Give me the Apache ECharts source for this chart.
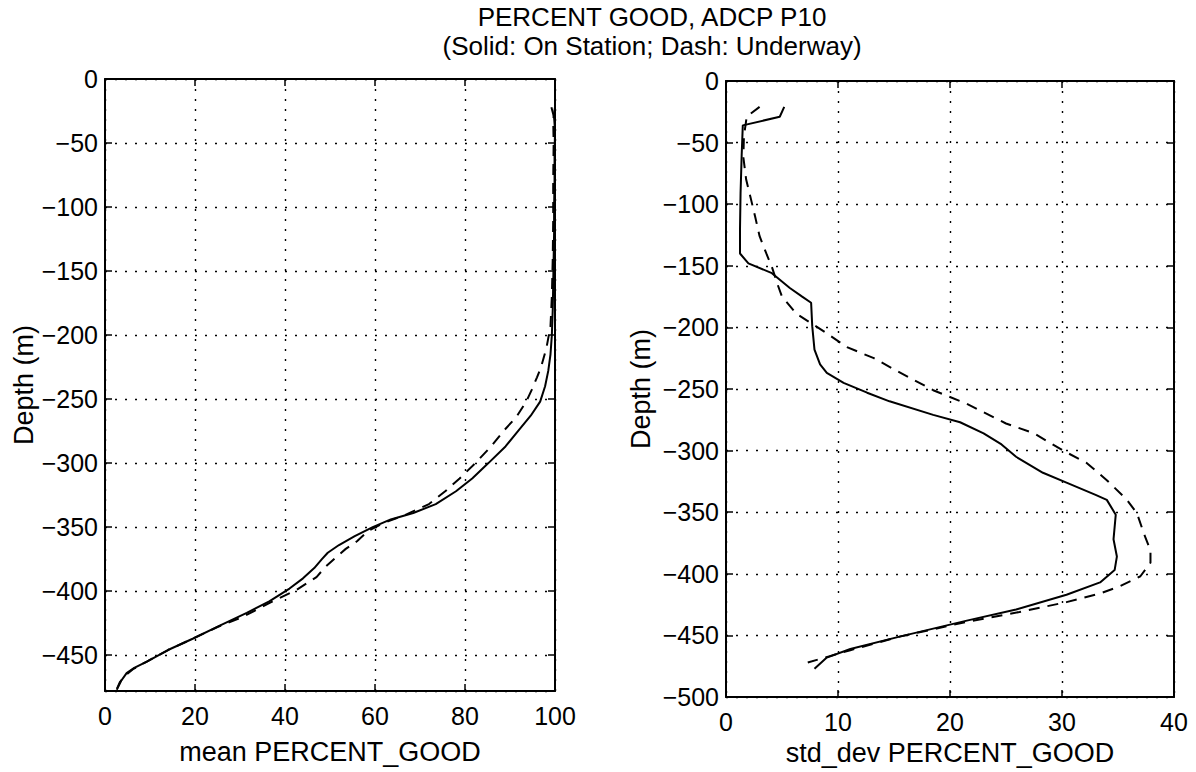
<!DOCTYPE html>
<html>
<head>
<meta charset="utf-8">
<script src="https://cdn.jsdelivr.net/npm/echarts@6/dist/echarts.min.js"></script>
<style>
html,body{margin:0;padding:0;background:#fff;}
#chart{width:1196px;height:772px;}
</style>
</head>
<body>
<div id="chart"></div>
<script>
// ---- Data (depth in metres below surface; plotted as negative depth) ----
const titleLine1 = 'PERCENT GOOD, ADCP P10';
const titleLine2 = '(Solid: On Station; Dash: Underway)';
const leftXName = 'mean PERCENT_GOOD';
const rightXName = 'std_dev PERCENT_GOOD';
const yName = 'Depth (m)';

// mean PERCENT_GOOD, on station (solid)
const meanStationPct   = [99.2, 99.8, 100, 99.9, 99.9, 99.8, 99.8, 99.7, 99.6, 99.5, 99.3, 99.0, 98.5, 97.8, 96.7, 94.6, 92.0, 89.0, 85.2, 81.6, 78.0, 73.5, 68.5, 63.5, 59.5, 55.5, 52.0, 49.5, 48.2, 46.5, 44.0, 41.0, 36.5, 31.5, 25.5, 19.6, 14.0, 9.3, 6.5, 4.8, 3.6, 2.6];
const meanStationDepth = [22, 30, 40, 60, 80, 100, 120, 140, 160, 180, 200, 215, 228, 240, 252, 263, 274, 287, 300, 312, 322, 332, 339, 344, 350, 357, 364, 370, 375, 382, 390, 398, 408, 417, 427, 437, 446, 455, 460, 464, 470, 477];

// mean PERCENT_GOOD, underway (dash)
const meanUnderwayPct   = [100, 99.6, 99.7, 99.6, 99.6, 99.5, 99.3, 99.0, 98.1, 96.9, 96.0, 94.8, 93.6, 91.4, 88.8, 85.8, 82.3, 78.8, 75.6, 72.0, 67.0, 61.8, 58.5, 56.0, 53.5, 51.5, 49.0, 47.0, 42.6, 36.7, 30.7, 25.0, 19.6, 14.0, 9.3, 6.2, 4.5, 3.3, 2.7];
const meanUnderwayDepth = [22, 32, 50, 80, 110, 140, 170, 193, 210, 225, 233, 243, 252, 264, 274, 287, 300, 312, 322, 332, 340, 347, 353, 361, 367, 373, 381, 389, 399, 409, 420, 428, 437, 446, 455, 461, 466, 471, 476];

// std_dev PERCENT_GOOD, on station (solid)
const stdStationPct   = [5.2, 4.8, 1.5, 1.4, 1.3, 1.25, 1.25, 2.0, 4.1, 5.7, 6.8, 7.6, 7.7, 7.9, 8.4, 9.0, 10.5, 12.6, 14.6, 18.5, 20.9, 23.0, 24.6, 25.9, 28.3, 30.4, 33.0, 34.0, 34.8, 34.6, 34.9, 34.7, 33.4, 30.4, 25.9, 21.5, 15.5, 11.1, 9.0, 7.9];
const stdStationDepth = [21, 29, 36, 60, 91, 120, 140, 148, 156, 168, 175, 180, 199, 218, 230, 237, 245, 253, 260, 271, 277, 286, 295, 305, 318, 326, 336, 340, 352, 372, 386, 397, 407, 417, 429, 438, 451, 461, 468, 477];

// std_dev PERCENT_GOOD, underway (dash)
const stdUnderwayPct   = [3.0, 1.85, 1.6, 1.55, 1.8, 2.1, 2.6, 3.0, 3.6, 4.1, 4.6, 5.0, 6.3, 8.7, 10.8, 13.2, 15.2, 18.5, 21.5, 25.0, 27.5, 30.1, 32.2, 34.0, 35.8, 36.7, 37.3, 37.9, 37.9, 37.0, 35.2, 33.4, 30.4, 26.2, 21.5, 15.5, 11.1, 9.2, 7.3];
const stdUnderwayDepth = [21, 29, 45, 62, 80, 91, 110, 126, 140, 151, 165, 175, 189, 203, 216, 225, 235, 251, 262, 278, 286, 300, 310, 324, 340, 351, 367, 381, 391, 402, 410, 416, 423, 431, 439, 451, 462, 467, 472];

const leftXTicks = { min: 0, max: 100, interval: 20 };
const rightXTicks = { min: 0, max: 40, interval: 10 };
const leftDepthRange = { min: 0, max: 478, interval: 50 };
const rightDepthRange = { min: 0, max: 500, interval: 50 };

// ---- Chart ----
const FONT = '"Liberation Sans", Arial, Helvetica, sans-serif';
const pairs = (xs, ds) => xs.map((x, i) => [x, ds[i]]);
const depthLabel = v => (v % 50 !== 0) ? '' : (v === 0 ? '0' : '\u2212' + v);

const black = '#000';
const gridLine = { show: true, lineStyle: { color: black, type: [2, 8], width: 1.4 } };
const axisLine = { show: true, onZero: false, lineStyle: { color: black, width: 2 } };
const tick = { show: true, inside: true, length: 7, lineStyle: { color: black, width: 1.5 } };
const tickLabel = { color: black, fontSize: 25, fontFamily: FONT };
const nameStyle = { color: black, fontSize: 27, fontFamily: FONT };

function xAxes(grid, rng, name, gap) {
  return [
    { gridIndex: grid, type: 'value', position: 'bottom', min: rng.min, max: rng.max, interval: rng.interval,
      axisLine, axisTick: tick, axisLabel: Object.assign({ margin: 12 }, tickLabel), splitLine: gridLine,
      name, nameLocation: 'middle', nameGap: gap, nameTextStyle: nameStyle },
    { gridIndex: grid, type: 'value', position: 'top', min: rng.min, max: rng.max, interval: rng.interval,
      axisLine, axisTick: tick, axisLabel: { show: false }, splitLine: { show: false } }
  ];
}
function yAxes(grid, rng, gap) {
  return [
    { gridIndex: grid, type: 'value', position: 'left', inverse: true, min: rng.min, max: rng.max, interval: rng.interval,
      axisLine, axisTick: tick, axisLabel: Object.assign({ margin: 7, formatter: depthLabel }, tickLabel), splitLine: gridLine,
      name: yName, nameLocation: 'middle', nameGap: gap, nameTextStyle: nameStyle },
    { gridIndex: grid, type: 'value', position: 'right', inverse: true, min: rng.min, max: rng.max, interval: rng.interval,
      axisLine, axisTick: tick, axisLabel: { show: false }, splitLine: { show: false } }
  ];
}

const solid = { color: black, width: 2, type: 'solid' };
const dashed = { color: black, width: 2, type: [11, 8] };
function line(name, data, xi, yi, style) {
  return { name, type: 'line', xAxisIndex: xi, yAxisIndex: yi, data, showSymbol: false, symbol: 'none',
           lineStyle: style, itemStyle: { color: black }, animation: false, silent: true, z: 5 };
}

const chart = echarts.init(document.getElementById('chart'), null, { renderer: 'svg' });
chart.setOption({
  backgroundColor: '#fff',
  animation: false,
  graphic: [
    { type: 'text', x: 652, y: 17, style: { text: titleLine1, fill: black, font: '26px ' + FONT, textAlign: 'center', textVerticalAlign: 'middle' } },
    { type: 'text', x: 652, y: 46, style: { text: titleLine2, fill: black, font: '26px ' + FONT, textAlign: 'center', textVerticalAlign: 'middle' } }
  ],
  grid: [
    { left: 105, top: 79, width: 450, height: 612, show: false },
    { left: 726, top: 81, width: 448, height: 616, show: false }
  ],
  xAxis: [].concat(xAxes(0, leftXTicks, leftXName, 47), xAxes(1, rightXTicks, rightXName, 42)),
  yAxis: [].concat(yAxes(0, leftDepthRange, 67), yAxes(1, rightDepthRange, 72)),
  series: [
    line('On Station', pairs(meanStationPct, meanStationDepth), 0, 0, solid),
    line('Underway', pairs(meanUnderwayPct, meanUnderwayDepth), 0, 0, dashed),
    line('On Station', pairs(stdStationPct, stdStationDepth), 2, 2, solid),
    line('Underway', pairs(stdUnderwayPct, stdUnderwayDepth), 2, 2, dashed)
  ]
});
</script>
</body>
</html>
